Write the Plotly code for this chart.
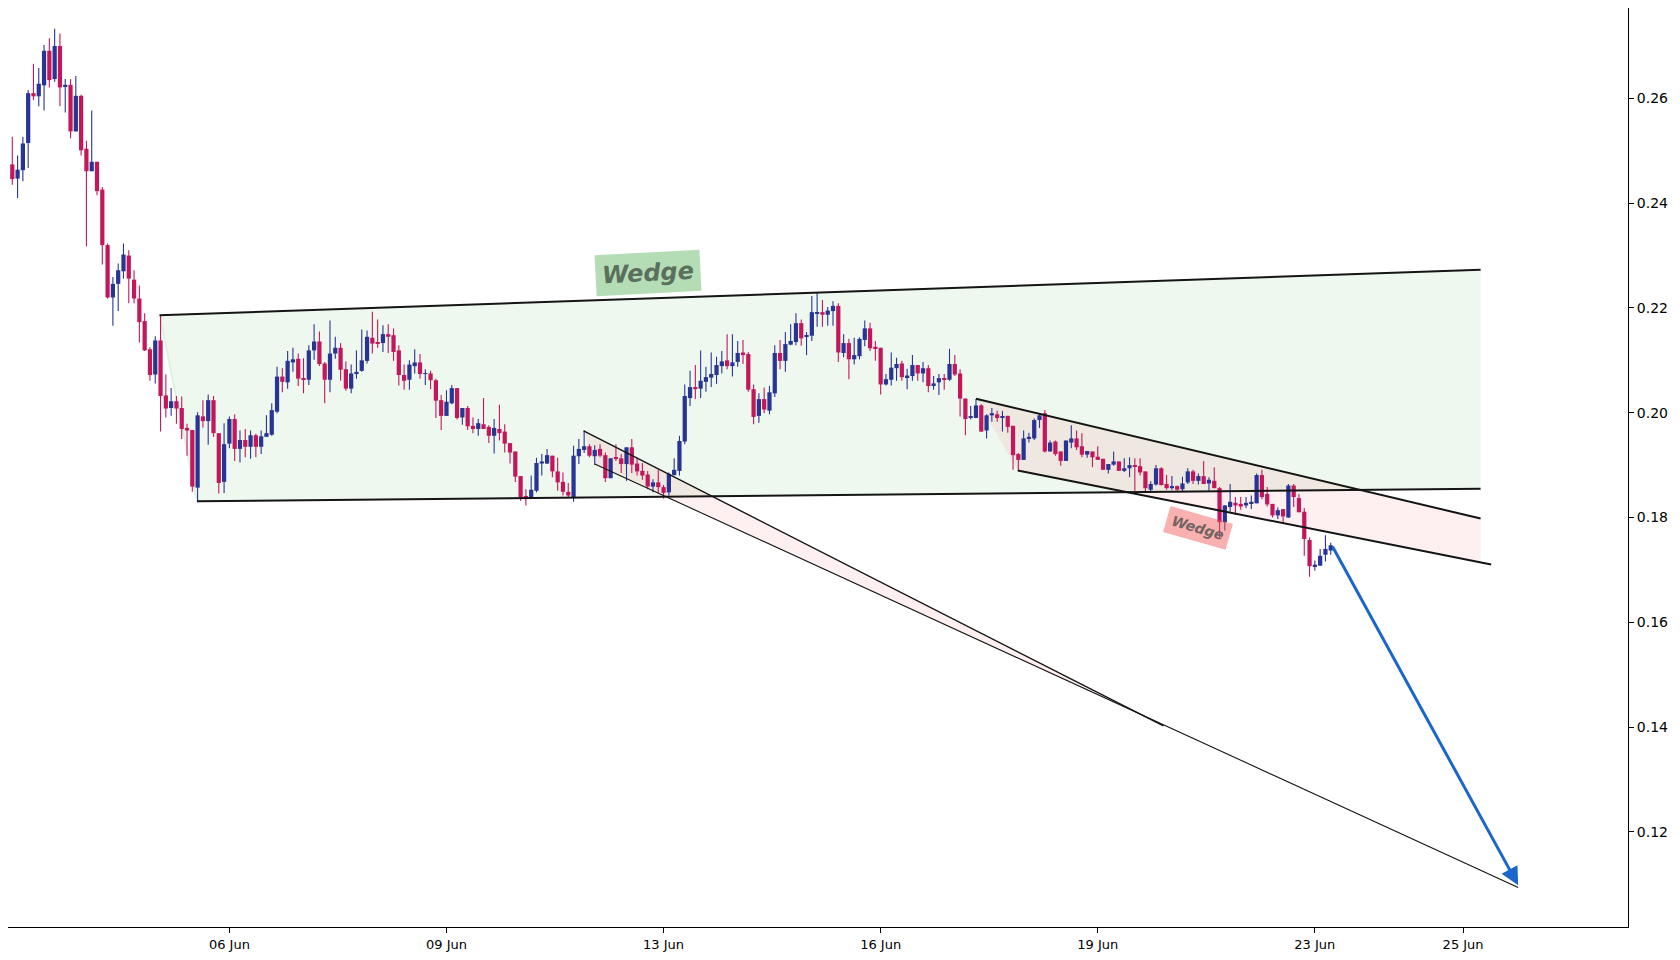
import plotly.graph_objects as go

# ---------------- data ----------------
open_ = [.2474,.2447,.2463,.2515,.2610,.2604,.2625,.2691,.2637,.2700,
         .2623,.2626,.2537,.2605,.2504,.2461,.2479,.2426,.2320,.2220,
         .2246,.2270,.2300,.2254,.2218,.2175,.2121,.2073,.2138,.2033,
         .2009,.2022,.2009,.1971,.1967,.1857,.1993,.1984,.2024,.1961,
         .1868,.1941,.1988,.1931,.1948,.1935,.1957,.1935,.1954,.1958,
         .2002,.2069,.2058,.2096,.2103,.2065,.2063,.2119,.2136,.2094,
         .2063,.2113,.2124,.2083,.2046,.2075,.2080,.2099,.2143,.2135,
         .2133,.2150,.2148,.2119,.2072,.2063,.2089,.2096,.2074,.2075,
         .2062,.2024,.1994,.2018,.2047,.1991,.2009,.1975,.1969,.1978,
         .1973,.1956,.1969,.1964,.1942,.1926,.1879,.1841,.1839,.1851,
         .1903,.1903,.1918,.1888,.1868,.1849,.1839,.1917,.1929,.1936,
         .1917,.1931,.1919,.1875,.1915,.1913,.1902,.1934,.1903,.1889,
         .1882,.1859,.1867,.1858,.1848,.1881,.1889,.1945,.2028,.2049,
         .2046,.2059,.2067,.2072,.2089,.2100,.2089,.2097,.2115,.2112,
         .2045,.1994,.2026,.2004,.2037,.2114,.2099,.2130,.2135,.2171,
         .2145,.2147,.2190,.2192,.2187,.2194,.2204,.2114,.2133,.2102,
         .2108,.2139,.2161,.2126,.2124,.2054,.2063,.2085,.2094,.2068,
         .2070,.2091,.2075,.2085,.2051,.2058,.2066,.2063,.2093,.2075,
         .2027,.1990,.1990,.2014,.1966,.1995,.1997,.1990,.1994,.1975,
         .1921,.1910,.1950,.1951,.1986,.1999,.1926,.1945,.1926,.1908,
         .1943,.1951,.1936,.1920,.1926,.1916,.1912,.1891,.1901,.1907,
         .1889,.1894,.1900,.1898,.1888,.1853,.1863,.1894,.1864,.1856,
         .1860,.1854,.1867,.1888,.1870,.1879,.1865,.1870,.1856,.1791,
         .1820,.1828,.1826,.1823,.1827,.1827,.1881,.1845,.1826,.1804,
         .1816,.1800,.1861,.1837,.1811,.1757,.1707,.1708,.1729,.1737]
high = [.2527,.2491,.2527,.2616,.2666,.2658,.2702,.2715,.2733,.2724,
        .2637,.2637,.2643,.2607,.2519,.2577,.2479,.2431,.2323,.2259,
        .2285,.2323,.2310,.2272,.2243,.2190,.2125,.2146,.2185,.2073,
        .2047,.2032,.2031,.1979,.1967,.2001,.2024,.2035,.2032,.1961,
        .1980,.1993,.1997,.1966,.1969,.1966,.1960,.1966,.1995,.2018,
        .2088,.2085,.2118,.2124,.2113,.2104,.2129,.2169,.2155,.2097,
        .2176,.2145,.2133,.2098,.2092,.2119,.2159,.2157,.2193,.2178,
        .2167,.2169,.2161,.2129,.2092,.2100,.2121,.2112,.2083,.2080,
        .2065,.2034,.2043,.2053,.2047,.2009,.2013,.1991,.1988,.2028,
        .1976,.1988,.2015,.1978,.1942,.1926,.1879,.1854,.1880,.1914,
        .1921,.1931,.1918,.1914,.1886,.1866,.1937,.1950,.1966,.1940,
        .1938,.1940,.1924,.1913,.1940,.1921,.1934,.1950,.1913,.1904,
        .1889,.1873,.1891,.1862,.1886,.1913,.1956,.2054,.2080,.2091,
        .2119,.2088,.2115,.2107,.2118,.2150,.2150,.2137,.2139,.2116,
        .2054,.2037,.2048,.2051,.2129,.2139,.2154,.2169,.2190,.2178,
        .2154,.2223,.2229,.2215,.2202,.2213,.2209,.2150,.2141,.2143,
        .2144,.2176,.2172,.2137,.2124,.2074,.2115,.2105,.2099,.2084,
        .2110,.2091,.2097,.2091,.2070,.2074,.2074,.2122,.2110,.2083,
        .2027,.2013,.2026,.2016,.1997,.2009,.2004,.2004,.1994,.1975,
        .1923,.1966,.1962,.1989,.1999,.2005,.1947,.1947,.1926,.1947,
        .1976,.1966,.1961,.1927,.1926,.1936,.1912,.1902,.1926,.1907,
        .1913,.1915,.1913,.1913,.1888,.1869,.1900,.1896,.1881,.1879,
        .1861,.1878,.1894,.1891,.1884,.1908,.1877,.1896,.1858,.1824,
        .1864,.1839,.1839,.1839,.1842,.1884,.1891,.1858,.1826,.1819,
        .1816,.1864,.1864,.1845,.1818,.1762,.1718,.1740,.1766,.1752]
low = [.2435,.2410,.2442,.2467,.2597,.2585,.2577,.2621,.2632,.2585,
       .2573,.2524,.2537,.2491,.2318,.2461,.2415,.2283,.2218,.2166,
       .2194,.2256,.2209,.2209,.2134,.2118,.2061,.2056,.1964,.1991,
       .1994,.1979,.1950,.1918,.1849,.1829,.1972,.1939,.1954,.1846,
       .1847,.1932,.1908,.1905,.1915,.1912,.1915,.1921,.1954,.1956,
       .1999,.2039,.2046,.2078,.2051,.2037,.2053,.2101,.2089,.2018,
       .2039,.2103,.2061,.2042,.2037,.2065,.2078,.2094,.2113,.2124,
       .2116,.2114,.2099,.2052,.2044,.2044,.2075,.2065,.2053,.2045,
       .1990,.1967,.1994,.2016,.1987,.1977,.1967,.1961,.1956,.1969,
       .1942,.1922,.1947,.1924,.1903,.1868,.1832,.1823,.1839,.1848,
       .1880,.1902,.1877,.1851,.1842,.1839,.1830,.1902,.1923,.1915,
       .1900,.1915,.1868,.1875,.1908,.1885,.1870,.1885,.1880,.1872,
       .1854,.1848,.1847,.1836,.1842,.1880,.1880,.1940,.2013,.2026,
       .2028,.2040,.2049,.2055,.2075,.2083,.2069,.2088,.2093,.2040,
       .1978,.1981,.1999,.1997,.2030,.2083,.2078,.2129,.2129,.2128,
       .2110,.2137,.2164,.2164,.2166,.2166,.2097,.2106,.2064,.2092,
       .2102,.2127,.2118,.2099,.2035,.2052,.2052,.2061,.2061,.2045,
       .2061,.2061,.2058,.2039,.2044,.2034,.2044,.2061,.2070,.1993,
       .1957,.1987,.1990,.1963,.1951,.1983,.1983,.1964,.1962,.1891,
       .1889,.1910,.1943,.1948,.1971,.1924,.1926,.1918,.1899,.1908,
       .1932,.1929,.1915,.1914,.1896,.1910,.1891,.1884,.1899,.1889,
       .1887,.1877,.1851,.1880,.1850,.1850,.1861,.1861,.1853,.1853,
       .1851,.1849,.1864,.1864,.1863,.1864,.1851,.1856,.1759,.1775,
       .1811,.1805,.1815,.1818,.1816,.1827,.1835,.1821,.1800,.1797,
       .1788,.1799,.1820,.1810,.1727,.1687,.1699,.1708,.1716,.1729]
close = [.2446,.2464,.2514,.2610,.2604,.2628,.2691,.2635,.2700,.2621,
         .2626,.2537,.2605,.2501,.2461,.2479,.2423,.2320,.2220,.2246,
         .2272,.2302,.2256,.2218,.2173,.2119,.2072,.2138,.2032,.2008,
         .2022,.2008,.1969,.1966,.1859,.1995,.1984,.2024,.1961,.1866,
         .1940,.1988,.1931,.1948,.1935,.1957,.1935,.1955,.1961,.2005,
         .2069,.2059,.2099,.2102,.2065,.2063,.2119,.2136,.2093,.2063,
         .2113,.2124,.2082,.2046,.2075,.2078,.2100,.2145,.2132,.2133,
         .2150,.2145,.2116,.2072,.2061,.2092,.2096,.2074,.2075,.2062,
         .2023,.1994,.2021,.2047,.1990,.2009,.1974,.1969,.1980,.1969,
         .1956,.1971,.1961,.1941,.1924,.1878,.1839,.1838,.1853,.1904,
         .1907,.1919,.1888,.1867,.1849,.1842,.1918,.1931,.1936,.1918,
         .1929,.1918,.1875,.1913,.1912,.1902,.1934,.1901,.1888,.1880,
         .1859,.1867,.1858,.1847,.1883,.1891,.1946,.2032,.2049,.2045,
         .2061,.2068,.2074,.2091,.2098,.2089,.2096,.2114,.2110,.2044,
         .1992,.2026,.2006,.2039,.2114,.2099,.2131,.2137,.2171,.2142,
         .2148,.2192,.2192,.2187,.2195,.2204,.2115,.2133,.2102,.2110,
         .2141,.2161,.2123,.2123,.2054,.2064,.2086,.2093,.2068,.2071,
         .2091,.2075,.2085,.2051,.2056,.2066,.2063,.2093,.2073,.2027,
         .1988,.1992,.2014,.1964,.1995,.1999,.1990,.1993,.1973,.1919,
         .1910,.1951,.1954,.1986,.1995,.1926,.1943,.1921,.1908,.1947,
         .1951,.1934,.1920,.1927,.1915,.1910,.1891,.1902,.1907,.1889,
         .1894,.1900,.1897,.1886,.1856,.1864,.1894,.1862,.1856,.1860,
         .1853,.1865,.1888,.1870,.1879,.1864,.1872,.1856,.1791,.1823,
         .1830,.1823,.1821,.1828,.1830,.1881,.1839,.1825,.1804,.1814,
         .1802,.1861,.1839,.1810,.1759,.1707,.1710,.1727,.1740,.1747]
bar_index = list(range(len(close)))

tick_pos = [41, 82, 123, 164, 205, 246, 274]
tick_text = ["06 Jun", "09 Jun", "13 Jun", "16 Jun", "19 Jun", "23 Jun", "25 Jun"]
y_ticks = [0.12, 0.14, 0.16, 0.18, 0.20, 0.22, 0.24, 0.26]

# drawings (bar index, price)
wedge1_upper = [(27.8, 0.2186), (277.3, 0.2273)]
wedge1_lower = [(34.9, 0.1831), (277.3, 0.1855)]
channel_upper = [(107.9, 0.19653), (217.4, 0.14021)]
channel_lower = [(110.0, 0.19021), (284.4, 0.10939)]
wedge2_upper = [(182.0, 0.20267), (277.3, 0.17981)]
wedge2_lower = [(189.9, 0.18899), (279.3, 0.17103)]
arrow_from = (249.2, 0.1747)
arrow_to = (284.4, 0.1098)
label_green = (120.1, 0.2267)
label_red = (224.0, 0.1780)

UP = "#283593"
DOWN = "#c2185b"
BODY_W = 0.8
MIN_BODY = 0.00018

fig = go.Figure()
for is_up, col in ((True, UP), (False, DOWN)):
    sel = [i for i in bar_index if (close[i] >= open_[i]) == is_up]
    wx, wy = [], []
    for i in sel:
        wx += [i, i, None]
        wy += [low[i], high[i], None]
    fig.add_trace(go.Scatter(x=wx, y=wy, mode="lines", line=dict(color=col, width=1.1),
                             hoverinfo="skip", showlegend=False))
    bases = [min(open_[i], close[i]) for i in sel]
    hts = [max(abs(close[i] - open_[i]), MIN_BODY) for i in sel]
    fig.add_trace(go.Bar(x=sel, y=hts, base=bases, width=BODY_W,
                         marker=dict(color=col, line=dict(width=0)),
                         hoverinfo="skip", showlegend=False))

def y_at(seg, x):
    (x0, y0), (x1, y1) = seg
    return y0 + (y1 - y0) * (x - x0) / (x1 - x0)

def path(points):
    return "M " + " L ".join(f"{x},{y}" for x, y in points) + " Z"

shapes = []
shapes.append(dict(type="path", xref="x", yref="y", layer="below",
                   path=path([wedge1_upper[0], wedge1_upper[1], wedge1_lower[1], wedge1_lower[0]]),
                   fillcolor="rgba(76,175,80,0.09)", line=dict(width=0)))
shapes.append(dict(type="line", xref="x", yref="y", layer="below",
                   x0=wedge1_upper[0][0], y0=wedge1_upper[0][1],
                   x1=wedge1_lower[0][0], y1=wedge1_lower[0][1],
                   line=dict(color="rgba(76,175,80,0.12)", width=2)))
shapes.append(dict(type="path", xref="x", yref="y", layer="below",
                   path=path([channel_upper[0], channel_upper[1], channel_lower[0]]),
                   fillcolor="rgba(242,54,69,0.08)", line=dict(width=0)))
x_end = wedge2_upper[1][0]
shapes.append(dict(type="path", xref="x", yref="y", layer="below",
                   path=path([wedge2_upper[0], wedge2_upper[1],
                              (x_end, y_at(wedge2_lower, x_end)), wedge2_lower[0]]),
                   fillcolor="rgba(242,54,69,0.08)", line=dict(width=0)))

def seg_shape(seg, width, color="#141414"):
    (x0, y0), (x1, y1) = seg
    return dict(type="line", xref="x", yref="y", layer="above",
                x0=x0, y0=y0, x1=x1, y1=y1, line=dict(color=color, width=width))

shapes += [seg_shape(wedge1_upper, 2), seg_shape(wedge1_lower, 2),
           seg_shape(channel_upper, 1.4), seg_shape(channel_lower, 1.1),
           seg_shape(wedge2_upper, 2), seg_shape(wedge2_lower, 2)]

annotations = [
    dict(x=arrow_to[0], y=arrow_to[1], ax=arrow_from[0], ay=arrow_from[1],
         xref="x", yref="y", axref="x", ayref="y", text="", showarrow=True,
         arrowhead=2, arrowsize=1.2, arrowwidth=3, arrowcolor="#1a66cc", standoff=0),
    dict(x=label_green[0], y=label_green[1], xref="x", yref="y", text="<b><i>Wedge</i></b>",
         showarrow=False, textangle=-3, bgcolor="rgba(76,175,80,0.42)", borderpad=6,
         font=dict(family="DejaVu Sans", size=24, color="#5b705c")),
    dict(x=label_red[0], y=label_red[1], xref="x", yref="y", text="<b><i>Wedge</i></b>",
         showarrow=False, textangle=16, bgcolor="rgba(239,83,80,0.45)", borderpad=5,
         font=dict(family="DejaVu Sans", size=14, color="#736262")),
]

fig.update_layout(
    width=1680, height=960,
    margin=dict(l=8, r=52, t=8, b=31),
    paper_bgcolor="white", plot_bgcolor="white",
    showlegend=False, barmode="overlay",
    shapes=shapes, annotations=annotations,
    font=dict(family="DejaVu Sans", size=13, color="black"),
    xaxis=dict(range=[-0.81, 305.14],
               showgrid=False, zeroline=False, showline=True, linecolor="black", linewidth=1,
               ticks="outside", ticklen=5, tickcolor="black",
               tickvals=tick_pos, ticktext=tick_text, tickfont=dict(size=13)),
    yaxis=dict(range=[0.10183, 0.27726], side="right",
               showgrid=False, zeroline=False, showline=True, linecolor="black", linewidth=1,
               ticks="outside", ticklen=5, tickcolor="black",
               tickvals=y_ticks, ticktext=[f"{v:.2f}" for v in y_ticks], tickfont=dict(size=14)),
)

fig.write_html("out.html")
